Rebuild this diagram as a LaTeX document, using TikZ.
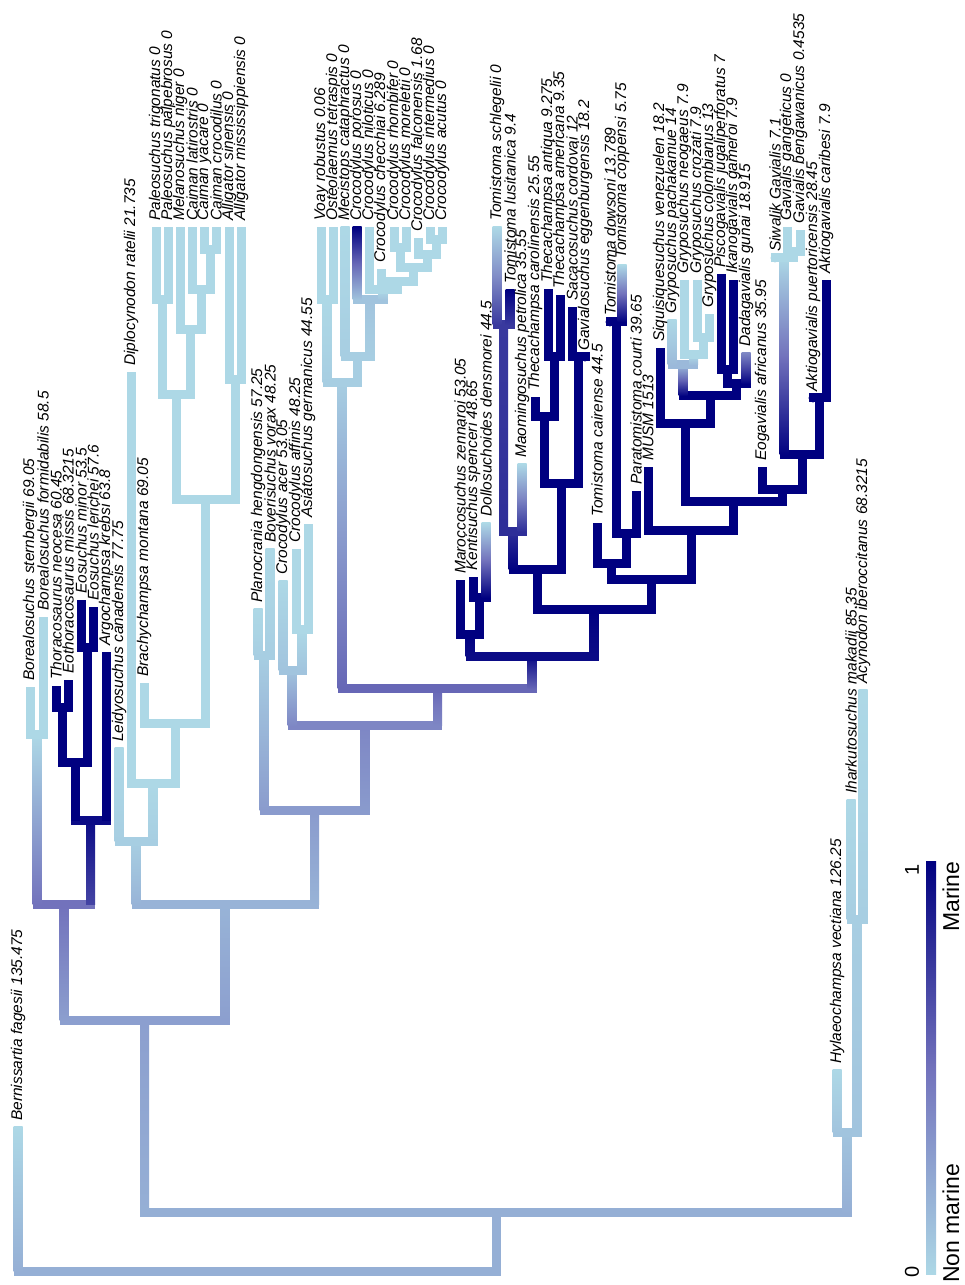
\documentclass[tikz,border=0pt]{standalone}
\usepackage{fontspec}
\setmainfont{Liberation Sans}
\definecolor{lb}{HTML}{ADD8E6}
\definecolor{nv}{HTML}{000080}
\definecolor{md}{HTML}{7272BC}
\def\hw{4.5}
\newcommand{\setcv}[2]{\pgfmathtruncatemacro\tmpv{#2}%
  \ifnum\tmpv>50\relax\pgfmathtruncatemacro\tmpp{(\tmpv-50)*2}\colorlet{#1}{nv!\tmpp!md}%
  \else\pgfmathtruncatemacro\tmpp{\tmpv*2}\colorlet{#1}{md!\tmpp!lb}\fi}
% vertical branch: x, ytop, ybot, vtop, vbot (page coordinates, y down)
\newcommand{\vb}[5]{\setcv{ctop}{#4}\setcv{cbot}{#5}\setcv{cmid}{(#4+#5)/2}%
  \shade[top color=ctop,bottom color=cbot,middle color=cmid] ({#1-\hw},{1285-(#3)}) rectangle ({#1+\hw},{1285-(#2)});}
\newcommand{\vs}[4]{\setcv{cs}{#4}\fill[cs] ({#1-\hw},{1285-(#3)}) rectangle ({#1+\hw},{1285-(#2)});}
\newcommand{\hb}[4]{\setcv{ch}{#4}\fill[ch] ({#1-\hw},{1285-(#3)-\hw}) rectangle ({#2+\hw},{1285-(#3)+\hw});}
\newcommand{\dt}[3]{\setcv{cd}{#3}\fill[cd] ({#1},{1285-(#2)}) circle (\hw);}
\newcommand{\tl}[4]{\node[lab] (#1) at ({#2},{1285-(#3)+6}) {#4};}
\begin{document}
\begin{tikzpicture}[x=1pt,y=1pt,
  lab/.style={rotate=90,anchor=west,inner sep=0pt,font=\fontsize{15.5}{17}\selectfont\itshape},
  leg/.style={rotate=90,inner sep=0pt,font=\fontsize{23}{25}\selectfont}]
\useasboundingbox (0,0) rectangle (965,1285);
\fill[white] (0,0) rectangle (965,1285);
% ---------- root ----------
\hb{18}{496}{1272}{20}
\vb{18}{1127}{1272}{0}{20}
\vs{496}{1213}{1272}{20}
\hb{144.5}{847}{1213}{20}
% Hylaeochampsidae etc.
\vb{847}{1133}{1213}{10}{20}
\hb{837}{857}{1133}{10}
\vb{837}{1070}{1133}{0}{10}
\vb{857}{920}{1133}{5}{10}
\hb{851}{863}{920}{5}
\vb{851}{800}{920}{0}{5}
\vb{863}{690}{920}{0}{5}
% Crocodylia
\vb{144.5}{1021}{1213}{28}{20}
\hb{64}{225}{1021}{28}
% Borealosuchus + Thoracosaurus group
\vb{64}{905}{1021}{50}{28}
\hb{37}{90.5}{905}{50}
\vb{37}{735}{905}{0}{50}
\hb{30}{43}{735}{0}
\vs{30}{687}{735}{0}
\vs{43}{617}{735}{0}
\vb{90.5}{821}{905}{95}{70}
\hb{75}{106}{821}{95}
\vs{75}{763}{821}{100}
\hb{62}{87}{763}{100}
\vs{62}{708}{763}{100}
\hb{56}{68}{708}{100}
\vs{56}{686}{708}{100}
\vs{68}{680}{708}{100}
\vs{87}{648}{763}{100}
\hb{81}{93}{648}{100}
\vs{81}{600}{648}{100}
\vs{93}{607}{648}{100}
\vs{106}{652}{821}{100}
% Alligatoroidea
\vb{225}{905}{1021}{18}{28}
\hb{136}{314.5}{905}{18}
\vb{136}{842}{905}{5}{18}
\hb{119}{153}{842}{5}
\vb{119}{748}{842}{0}{5}
\vb{153}{784}{842}{0}{5}
\hb{131}{175}{784}{0}
\vs{131}{372}{784}{0}
\vs{175}{724}{784}{0}
\hb{144}{205.5}{724}{0}
\vs{144}{683}{724}{0}
\vs{205.5}{500}{724}{0}
\hb{176}{235}{500}{0}
\vs{176}{395}{500}{0}
\hb{162}{190}{395}{0}
\vs{162}{300}{395}{0}
\hb{156}{168}{300}{0}
\vs{156}{227}{300}{0}
\vs{168}{227}{300}{0}
\vs{190}{330}{395}{0}
\hb{180}{201}{330}{0}
\vs{180}{227}{330}{0}
\vs{201}{290}{330}{0}
\hb{192}{210}{290}{0}
\vs{192}{227}{290}{0}
\vs{210}{250}{290}{0}
\hb{204}{216}{250}{0}
\vs{204}{227}{250}{0}
\vs{216}{227}{250}{0}
\vs{235}{380}{500}{0}
\hb{229}{241}{380}{0}
\vs{229}{227}{380}{0}
\vs{241}{227}{380}{0}
% Longirostres
\vb{314.5}{811}{905}{30}{18}
\hb{264}{365}{811}{30}
\vb{264}{656}{811}{5}{30}
\hb{258}{270}{656}{5}
\vb{258}{609}{656}{0}{5}
\vb{270}{549}{656}{0}{5}
\vb{365}{726}{811}{40}{30}
\hb{292}{437.5}{726}{40}
\vb{292}{671}{726}{10}{40}
\hb{283}{302}{671}{10}
\vb{283}{581}{671}{0}{10}
\vb{302}{630}{671}{0}{10}
\hb{296}{308}{630}{0}
\vs{296}{549}{630}{0}
\vs{308}{524}{630}{0}
\vb{437.5}{689}{726}{55}{40}
\hb{342}{532}{689}{55}
% Crocodylidae
\vb{342}{383}{689}{5}{55}
\hb{327}{357.5}{383}{5}
\vb{327}{300}{383}{0}{5}
\hb{321}{333}{300}{0}
\vs{321}{227}{300}{0}
\vs{333}{227}{300}{0}
\vs{357.5}{357}{383}{5}
\hb{345}{370}{357}{5}
\vb{345}{227}{357}{0}{5}
\vb{370}{300}{357}{10}{5}
\hb{357}{383}{300}{10}
\vb{357}{227}{300}{100}{10}
\vb{383}{290}{300}{0}{10}
\hb{369}{397}{290}{0}
\vs{369}{227}{290}{0}
\vs{397}{282}{290}{0}
\hb{381}{413.5}{282}{0}
\vs{381}{269}{282}{0}
\vs{413.5}{268}{282}{0}
\hb{400}{427}{268}{0}
\vs{400}{248}{268}{0}
\hb{394}{406}{248}{0}
\vs{394}{227}{248}{0}
\vs{406}{227}{248}{0}
\vs{427}{255}{268}{0}
\hb{418}{436}{255}{0}
\vs{418}{238}{255}{0}
\vs{436}{240}{255}{0}
\hb{430}{442}{240}{0}
\vs{430}{227}{240}{0}
\vs{442}{227}{240}{0}
% Gavialoidea
\vb{532}{657}{689}{95}{55}
\hb{470}{594}{657}{95}
\vb{470}{635}{657}{100}{95}
\hb{460}{479.5}{635}{100}
\vs{460}{580}{635}{100}
\vs{479.5}{598}{635}{100}
\hb{473}{486}{598}{100}
\vs{473}{577}{598}{100}
\vb{486}{523}{598}{0}{100}
\vb{594}{610}{657}{100}{95}
\hb{537}{651}{610}{100}
\vs{537}{570}{610}{100}
\hb{513}{561.5}{570}{100}
\vb{513}{532}{570}{80}{100}
\hb{503.5}{522}{532}{80}
\vb{503.5}{325}{532}{75}{80}
\hb{497}{510}{325}{75}
\vb{497}{227}{325}{0}{75}
\vb{510}{290}{325}{100}{75}
\vb{522}{464}{532}{0}{80}
\vs{561.5}{484}{570}{100}
\hb{544.5}{578.5}{484}{100}
\vs{544.5}{417}{484}{100}
\hb{535}{554}{417}{100}
\vs{535}{397}{417}{100}
\vs{554}{357}{417}{100}
\hb{548}{560}{357}{100}
\vs{548}{289}{357}{100}
\vs{560}{295}{357}{100}
\vs{578.5}{357}{484}{100}
\hb{572}{585}{357}{100}
\vs{572}{307}{357}{100}
\dt{585}{357}{100}
\vs{651}{580}{610}{100}
\hb{611.5}{691}{580}{100}
\vs{611.5}{564}{580}{100}
\hb{597}{626}{564}{100}
\vs{597}{523}{564}{100}
\vs{626}{534}{564}{100}
\hb{616}{636}{534}{100}
\vs{616}{322}{534}{100}
\hb{610}{622}{322}{100}
\dt{610}{322}{100}
\vb{622}{265}{322}{0}{100}
\vs{636}{491}{534}{100}
\vs{691}{531}{580}{100}
\hb{648}{733.5}{531}{100}
\vs{648}{467}{531}{100}
\vs{733.5}{502}{531}{100}
\hb{685}{782}{502}{100}
\vs{685}{424}{502}{100}
\hb{660}{710}{424}{100}
\vs{660}{348}{424}{100}
\vs{710}{396}{424}{100}
\hb{683}{736.5}{396}{100}
\vb{683}{365}{396}{15}{100}
\hb{672}{693.5}{365}{15}
\vb{672}{320}{365}{0}{15}
\vb{693.5}{355}{365}{0}{15}
\hb{684}{703}{355}{0}
\vs{684}{280}{355}{0}
\vs{703}{338}{355}{0}
\hb{697}{709}{338}{0}
\vs{697}{280}{338}{0}
\vs{709}{314}{338}{0}
\vs{736.5}{384}{396}{100}
\hb{727}{746}{384}{100}
\vs{727}{370}{384}{100}
\hb{721}{733}{370}{100}
\vs{721}{274}{370}{100}
\vs{733}{280}{370}{100}
\vb{746}{353}{384}{40}{100}
\vs{782}{490}{502}{100}
\hb{762}{802}{490}{100}
\vs{762}{467}{490}{100}
\vs{802}{455}{490}{100}
\hb{784}{819.5}{455}{100}
\vb{784}{258}{455}{0}{100}
\hb{775}{793.5}{258}{0}
\dt{775}{258}{0}
\vs{793.5}{252}{258}{0}
\hb{787}{800}{252}{0}
\vs{787}{227}{252}{0}
\vs{800}{230}{252}{0}
\vs{819.5}{398}{455}{100}
\hb{813}{826}{398}{100}
\dt{813}{398}{100}
\vs{826}{280}{398}{100}
% ---------- tip labels ----------
\tl{t1}{18}{1127}{Bernissartia fagesii 135.475}
\tl{t2}{30}{687}{Borealosuchus sternbergii 69.05}
\tl{t3}{43}{617}{Borealosuchus formidabilis 58.5}
\tl{t4}{56}{686}{Thoracosaurus neocesa 60.45}
\tl{t5}{68}{680}{Eothoracosaurus missis 68.3215}
\tl{t6}{81}{600}{Eosuchus minor 53.5}
\tl{t7}{93}{607}{Eosuchus lerichei 57.6}
\tl{t8}{106}{652}{Argochampsa krebsi 63.8}
\tl{t9}{119}{748}{Leidyosuchus canadensis 77.75}
\tl{t10}{131}{372}{Diplocynodon ratelii 21.735}
\tl{t11}{144}{683}{Brachychampsa montana 69.05}
\tl{t12}{156}{227}{Paleosuchus trigonatus 0}
\tl{t13}{168}{227}{Paleosuchus palpebrosus 0}
\tl{t14}{180}{227}{Melanosuchus niger 0}
\tl{t15}{192}{227}{Caiman latirostris 0}
\tl{t16}{204}{227}{Caiman yacare 0}
\tl{t17}{216}{227}{Caiman crocodilus 0}
\tl{t18}{229}{227}{Alligator sinensis 0}
\tl{t19}{241}{227}{Alligator mississippiensis 0}
\tl{t20}{258}{609}{Planocrania hengdongensis 57.25}
\tl{t21}{270}{549}{Boverisuchus vorax 48.25}
\tl{t22}{283}{581}{Crocodylus acer 53.05}
\tl{t23}{296}{549}{Crocodylus affinis 48.25}
\tl{t24}{308}{524}{Asiatosuchus germanicus 44.55}
\tl{t25}{321}{227}{Voay robustus 0.06}
\tl{t26}{333}{227}{Osteolaemus tetraspis 0}
\tl{t27}{345}{227}{Mecistops cataphractus 0}
\tl{t28}{357}{227}{Crocodylus porosus 0}
\tl{t29}{369}{227}{Crocodylus niloticus 0}
\tl{t30}{381}{269}{Crocodylus checchiai 6.289}
\tl{t31}{394}{227}{Crocodylus rhombifer 0}
\tl{t32}{406}{227}{Crocodylus moreletii 0}
\tl{t33}{418}{238}{Crocodylus falconensis 1.68}
\tl{t34}{430}{227}{Crocodylus intermedius 0}
\tl{t35}{442}{227}{Crocodylus acutus 0}
\tl{t36}{460}{580}{Maroccosuchus zennaroi 53.05}
\tl{t37}{473}{577}{Kentisuchus spenceri 48.65}
\tl{t38}{486}{523}{Dollosuchoides densmorei 44.5}
\tl{t39}{497}{227}{Tomistoma schlegelii 0}
\tl{t40}{510}{290}{Tomistoma lusitanica 9.4}
\tl{t41}{522}{464}{Maomingosuchus petrolica 35.55}
\tl{t42}{535}{397}{Thecachampsa carolinensis 25.55}
\tl{t43}{548}{289}{Thecachampsa antiqua 9.275}
\tl{t44}{560}{295}{Thecachampsa americana 9.35}
\tl{t45}{572}{307}{Sacacosuchus cordovai 12}
\tl{t46}{585}{357}{Gavialosuchus eggenburgensis 18.2}
\tl{t47}{597}{523}{Tomistoma cairense 44.5}
\tl{t48}{610}{322}{Tomistoma dowsoni 13.789}
\tl{t49}{622}{265}{Tomistoma coppensi 5.75}
\tl{t50}{636}{491}{Paratomistoma courti 39.65}
\tl{t51}{648}{467}{MUSM 1513}
\tl{t52}{660}{348}{Siquisiquesuchus venezuelen 18.2}
\tl{t53}{672}{320}{Gryposuchus pachakamue 14}
\tl{t54}{684}{280}{Gryposuchus neogaeus 7.9}
\tl{t55}{697}{280}{Gryposuchus crozati 7.9}
\tl{t56}{709}{314}{Gryposuchus colombianus 13}
\tl{t57}{721}{274}{Piscogavialis jugaliperforatus 7}
\tl{t58}{733}{280}{Ikanogavialis gameroi 7.9}
\tl{t59}{746}{353}{Dadagavialis gunai 18.915}
\tl{t60}{762}{467}{Eogavialis africanus 35.95}
\tl{t61}{775}{258}{Siwalik Gavialis 7.1}
\tl{t62}{787}{227}{Gavialis gangeticus 0}
\tl{t63}{800}{230}{Gavialis bengawanicus 0.4535}
\tl{t64}{813}{398}{Aktiogavialis puertoricensis 28.45}
\tl{t65}{826}{280}{Aktiogavialis caribesi 7.9}
\tl{t66}{837}{1070}{Hylaeochampsa vectiana 126.25}
\tl{t67}{851}{800}{Iharkutosuchus makadii 85.35}
\tl{t68}{863}{690}{Acynodon iberoccitanus 68.3215}
% ---------- legend ----------
\shade[top color=nv,bottom color=lb,middle color=md] (926,10) rectangle (936,423);
\node[leg,font=\fontsize{20}{22}\selectfont] (one) at (912,415) {1};
\node[leg,font=\fontsize{20}{22}\selectfont] (zero) at (912,13) {0};
\node[leg,anchor=west] (marine) at (951,353) {Marine};
\node[leg,anchor=west] (nonmarine) at (951,2) {Non marine};
\end{tikzpicture}
\end{document}
